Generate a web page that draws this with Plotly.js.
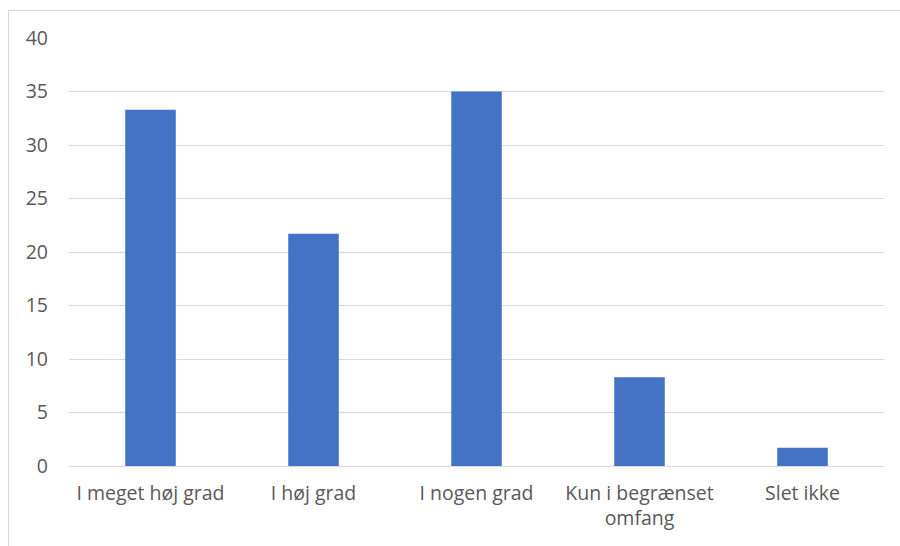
<!DOCTYPE html>
<html>
<head>
<meta charset="utf-8">
<script src="https://cdn.plot.ly/plotly-3.0.1.min.js"></script>
<style>
html,body{margin:0;padding:0;background:#fff;overflow:hidden;}
#frame{position:absolute;left:8px;top:10px;width:1000px;height:600px;border:1px solid #d9d9d9;box-sizing:border-box;}
#chart{position:absolute;left:0;top:0;width:900px;height:546px;}
</style>
</head>
<body>
<div id="frame"></div>
<div id="chart"></div>
<script>
var categories = ["I meget høj grad", "I høj grad", "I nogen grad", "Kun i begrænset<br>omfang", "Slet ikke"];
var values = [33.3, 21.7, 35.0, 8.3, 1.7];
var yTicks = [0, 5, 10, 15, 20, 25, 30, 35, 40];

var font = {family: "Open Sans, Liberation Sans, sans-serif", size: 19.5, color: "#595959"};
Plotly.newPlot("chart", [{
  type: "bar",
  x: categories,
  y: values,
  marker: {color: "#4472C4"},
  width: 0.31,
  hoverinfo: "x+y"
}], {
  width: 900, height: 546,
  margin: {l: 69, r: 16, t: 38, b: 80},
  paper_bgcolor: "rgba(0,0,0,0)",
  plot_bgcolor: "rgba(0,0,0,0)",
  showlegend: false,
  font: font,
  xaxis: {showgrid: false, showline: false, zeroline: false, ticks: "", tickfont: font, automargin: false, ticklabelstandoff: 13},
  yaxis: {range: [0, 40], tickvals: yTicks, ticktext: yTicks.map(String), showgrid: true, gridcolor: "#d9d9d9", gridwidth: 1,
          zeroline: true, zerolinecolor: "#d9d9d9", zerolinewidth: 1, showline: false, ticks: "", ticklen: 0,
          tickfont: font, automargin: false, fixedrange: true, ticklabelstandoff: 20}
}, {displayModeBar: false, staticPlot: true});
</script>
</body>
</html>
